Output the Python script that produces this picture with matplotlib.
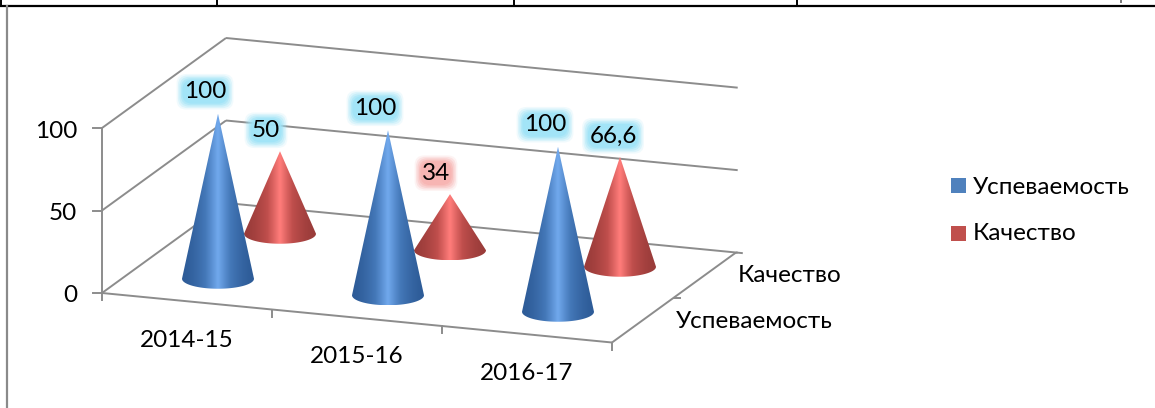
#!/usr/bin/env python3
# -*- coding: utf-8 -*-
import numpy as np
import matplotlib
matplotlib.use('Agg')
import matplotlib.pyplot as plt
from matplotlib.colors import LinearSegmentedColormap
from matplotlib.patches import PathPatch, Rectangle
from matplotlib.path import Path

plt.rcParams['font.family'] = ['Lato', 'Open Sans', 'DejaVu Sans']

# data
years = ['2014-15', '2015-16', '2016-17']
series = ['Успеваемость', 'Качество']
uspevaemost = [100, 100, 100]
kachestvo = [50, 34, 66.6]
yticks = [0, 50, 100]

# oblique projection of the 3d box to picture pixels
X0, Y0 = 102, 293
DX_U, DY_U = 170, 16.5    # one category
DX_V, DY_V = 62, -45      # one series
DY_VAL = -1.65            # one percent

GRID = '#8c8c8c'
FS = 17.5


def proj(u, v, val=0):
    return X0 + DX_U*u + DX_V*v, Y0 + DY_U*u + DY_V*v + DY_VAL*val


def seg(ax, p, q, z=1):
    ax.plot([p[0], q[0]], [p[1], q[1]], color=GRID, lw=1.4, zorder=z,
            solid_capstyle='butt')


def cone(ax, u, v, val, colors, z):
    cx, cy = proj(u, v)
    tx, ty = proj(u, v, val)
    rx, ry = 36, 10
    t = np.linspace(np.pi, 0, 40)   # lower half of the base
    xs = cx + rx*np.cos(t)
    ys = cy + ry*np.sin(t)
    verts = [(tx, ty)] + list(zip(xs, ys)) + [(tx, ty)]
    clip = Path(verts, closed=True)
    cmap = LinearSegmentedColormap.from_list('c', colors)
    # narrow highlight in the middle of the cone
    grad = (1 - np.abs(np.linspace(-1, 1, 128)))[None, :]**1.6
    im = ax.imshow(grad, cmap=cmap, aspect='auto', zorder=z,
                   extent=(cx-rx, cx+rx, cy+ry, ty), interpolation='bilinear')
    patch = PathPatch(clip, transform=ax.transData, fc='none', ec='none')
    ax.add_patch(patch)
    im.set_clip_path(patch)


def glow_label(ax, x, y, txt, color, z):
    for pad, alpha in [(0.3, 0.15), (0.24, 0.25), (0.18, 0.35), (0.12, 0.5), (0.06, 0.8)]:
        ax.text(x, y, txt, fontsize=FS, color='none', ha='center', va='center', zorder=z,
                bbox=dict(boxstyle='round,pad=%g,rounding_size=0.4' % pad, fc=color,
                          ec='none', alpha=alpha))
    ax.text(x, y, txt, fontsize=FS, color='black', ha='center', va='center', zorder=z+1)


fig = plt.figure(figsize=(11.55, 4.08), dpi=100)
ax = fig.add_axes([0, 0, 1, 1])

# page table lines behind the chart
ax.plot([0, 1155], [5.5, 5.5], color='black', lw=1.6)
for x in [1, 217, 514, 797]:
    ax.plot([x, x], [0, 5], color='black', lw=1.4)
ax.plot([1121, 1121], [0, 2], color='#777777', lw=1.4)
ax.plot([7, 7], [6, 408], color='#8a8a8a', lw=1.6)

# walls and floor
for val in yticks:
    seg(ax, proj(0, 0, val), proj(0, 2, val))
    seg(ax, proj(0, 2, val), proj(3.01, 2, val))
seg(ax, proj(0, 0), proj(0, 0, 100))
seg(ax, proj(0, 0), proj(3, 0))
seg(ax, proj(3, 0), proj(3, 2))
seg(ax, proj(3, 2), proj(3.04, 2))

# ticks
for val in yticks:
    x, y = proj(0, 0, val)
    ax.plot([x-9, x], [y, y], color=GRID, lw=1.4)
    ax.text(x-25, y+3, str(val), fontsize=FS, ha='right', va='center')
for u in range(4):
    x, y = proj(u, 0)
    ax.plot([x, x], [y, y+7], color=GRID, lw=1.4)
x, y = proj(3, 1)
ax.plot([x, x+6], [y, y], color=GRID, lw=1.4)

for i, yr in enumerate(years):
    x, y = proj(i+0.5, 0)
    ax.text(x, y+39, yr, fontsize=FS, ha='center', va='center')
for j, name in enumerate(series):
    x, y = proj(3, j+0.5)
    ax.text(x+33, y+1, name, fontsize=FS, ha='left', va='center')

# cones, back row first
blues = ['#2e5c98', '#4478b8', '#70a8ec']
reds = ['#9a3c3a', '#bf4e4c', '#ff7c7a']
for i in range(3):
    cone(ax, i+0.5, 1.5, kachestvo[i], reds, 3+i)
for i in range(3):
    cone(ax, i+0.5, 0.5, uspevaemost[i], blues, 7+i)

# data labels
for i in range(3):
    x, y = proj(i+0.5, 0.5, uspevaemost[i])
    glow_label(ax, x-13, y-22, str(uspevaemost[i]), '#9fe3f7', 12)
    x, y = proj(i+0.5, 1.5, kachestvo[i])
    txt = str(kachestvo[i]).replace('.', ',')
    col = '#f7b3b0' if kachestvo[i] == 34 else '#9fe3f7'
    off = -7 if len(txt) > 2 else -14
    glow_label(ax, x+off, y-21, txt, col, 12)

# legend
for name, c, y, ty in zip(series, ['#4f81bd', '#c0504d'], [185.5, 233.5], [187, 233]):
    ax.add_patch(Rectangle((951, y-7.5), 15, 15, fc=c, ec='none'))
    ax.text(973, ty, name, fontsize=FS, ha='left', va='center')

ax.set_xlim(0, 1155)
ax.set_ylim(408, 0)
ax.axis('off')
fig.savefig('out.png', dpi=100)
